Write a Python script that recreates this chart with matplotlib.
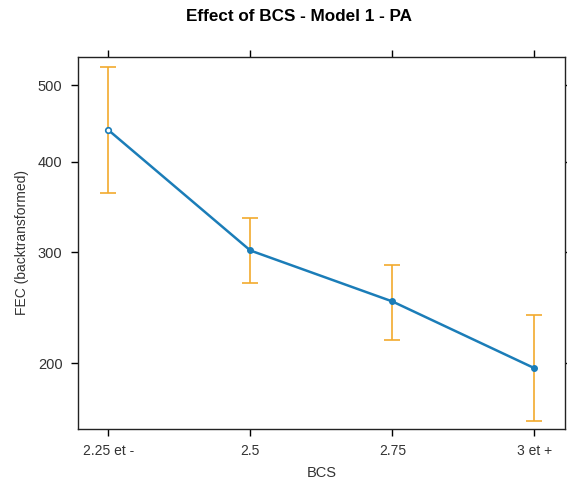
import numpy as np
import matplotlib
matplotlib.use("Agg")
import matplotlib.pyplot as plt

plt.rcParams['font.family'] = ['Liberation Sans', 'DejaVu Sans']

# data
bcs_labels = ["2.25 et -", "2.5", "2.75", "3 et +"]
fec_fit = [440, 302, 253, 196]
fec_lower = [364, 270, 219, 156]
fec_upper = [527, 336, 288, 241]
y_ticks = [200, 300, 400, 500]

OFFSET = 200.0


def fwd(v):
    return np.log(np.asarray(v, dtype=float) + OFFSET)


def inv(v):
    return np.exp(v) - OFFSET


fig = plt.figure(figsize=(5.67, 4.86), dpi=100)
ax = fig.add_axes([0.137, 0.118, 0.8595, 0.765])
ax.set_yscale('function', functions=(fwd, inv))

x = np.arange(len(bcs_labels))
fit = np.array(fec_fit)
lo = np.array(fec_lower)
hi = np.array(fec_upper)

ax.errorbar(x, fit, yerr=[fit - lo, hi - fit], fmt='none', ecolor='#F2AA2E',
            elinewidth=1.2, capsize=6, capthick=1.2, zorder=2)
ax.plot(x, fit, color='#1B7DB8', lw=1.8, zorder=3)
ax.plot(x[1:], fit[1:], 'o', color='#1B7DB8', ms=4, zorder=4)
ax.plot(x[:1], fit[:1], 'o', mfc='white', mec='#1B7DB8', mew=1.2, ms=4, zorder=4)

ax.set_xlim(-0.215, 3.215)
ax.set_ylim(150.6, 541.5)
ax.set_xticks(x)
ax.set_xticklabels(bcs_labels)
ax.set_yticks(y_ticks)
ax.set_yticklabels([str(t) for t in y_ticks])
ax.minorticks_off()

ax.tick_params(direction='out', length=5, width=1, colors='black',
               labelcolor='#333333', top=True, right=True,
               labeltop=False, labelright=False)
ax.tick_params(axis='x', labelsize=10, pad=6)
ax.tick_params(axis='y', labelsize=10.5, pad=6)
for s in ax.spines.values():
    s.set_linewidth(1)
    s.set_color('#222222')

ax.set_xlabel("BCS", fontsize=10.5, color='#333333', labelpad=6)
ax.set_ylabel("FEC (backtransformed)", fontsize=10, color='#333333', labelpad=6)
fig.text(0.527, 0.967, "Effect of BCS - Model 1 - PA", fontsize=12.3,
         fontweight='bold', ha='center', va='center')

fig.savefig("out.png", dpi=100)
